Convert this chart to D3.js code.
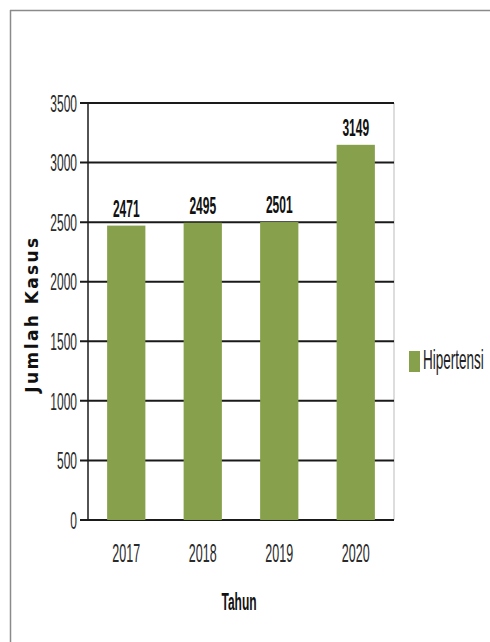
<!DOCTYPE html>
<html>
<head>
<meta charset="utf-8">
<script src="https://cdnjs.cloudflare.com/ajax/libs/d3/7.8.5/d3.min.js"></script>
<style>
  html, body { margin: 0; background: #fff; }
  text { font-family: "Liberation Sans", Arial, sans-serif; fill: #222; }
</style>
</head>
<body>
<svg id="chart" width="490" height="642"></svg>
<script>
var years = ["2017", "2018", "2019", "2020"];
var cases = [2471, 2495, 2501, 3149];
var yTicks = [0, 500, 1000, 1500, 2000, 2500, 3000, 3500];
var seriesName = "Hipertensi";

var BAR_COLOR = "#86a04b";
var SQUEEZE = 0.5; // the screenshot is squashed sideways, text too
var plot = {left: 88, right: 394, top: 103, bottom: 520};

var svg = d3.select("#chart");

// puts a horizontally squeezed text at x,y
function label(parent, px, py, str, size, anchor, bold, color) {
  var t = parent.append("g")
    .attr("transform", "translate(" + px + "," + py + ") scale(" + SQUEEZE + ",1)")
    .append("text")
    .attr("text-anchor", anchor)
    .style("font-size", size + "px")
    .style("fill", color || "#222")
    .text(str);
  if (bold) t.style("font-weight", "bold");
  return t;
}

// outer frame (top and left edge only)
svg.append("line").attr("x1", 10).attr("y1", 10.5).attr("x2", 490).attr("y2", 10.5)
  .attr("stroke", "#8a8a8a").attr("stroke-width", 1.5);
svg.append("line").attr("x1", 10.5).attr("y1", 10).attr("x2", 10.5).attr("y2", 642)
  .attr("stroke", "#8a8a8a").attr("stroke-width", 1.5);

var x = d3.scaleBand().domain(years).range([plot.left, plot.right]).paddingInner(0.5).paddingOuter(0.25);
var y = d3.scaleLinear().domain([0, 3500]).range([plot.bottom, plot.top]);

// plot area right border
svg.append("line").attr("x1", plot.right).attr("x2", plot.right)
  .attr("y1", plot.top).attr("y2", plot.bottom)
  .attr("stroke", "#bbb").attr("stroke-width", 1);

// gridlines with ticks
svg.append("g").selectAll("line").data(yTicks).enter().append("line")
  .attr("x1", plot.left - 8).attr("x2", plot.right)
  .attr("y1", function (d) { return y(d); }).attr("y2", function (d) { return y(d); })
  .attr("stroke", "#1a1a1a").attr("stroke-width", 2);

// bars
svg.append("g").selectAll("rect").data(cases).enter().append("rect")
  .attr("x", function (d, i) { return x(years[i]); })
  .attr("width", x.bandwidth())
  .attr("y", function (d) { return y(d); })
  .attr("height", function (d) { return y(0) - y(d); })
  .attr("fill", BAR_COLOR);

// y axis line
svg.append("line").attr("x1", plot.left).attr("x2", plot.left)
  .attr("y1", plot.top).attr("y2", plot.bottom + 1)
  .attr("stroke", "#1a1a1a").attr("stroke-width", 1.5);

// y tick labels
var yl = svg.append("g");
yTicks.forEach(function (d) {
  label(yl, plot.left - 11, y(d), d, 24, "end", false, "#2a2a2a").attr("dy", "0.36em");
});

// x tick labels
var xl = svg.append("g");
years.forEach(function (d) {
  label(xl, x(d) + x.bandwidth() / 2, 562, d, 25, "middle", false, "#2a2a2a");
});

// value labels
var vl = svg.append("g");
cases.forEach(function (d, i) {
  label(vl, x(years[i]) + x.bandwidth() / 2, y(d) - 9, d, 24, "middle", true, "#111");
});

// axis titles
label(svg, 239, 610, "Tahun", 24, "middle", true, "#111");
svg.append("text").attr("transform", "translate(38,314) rotate(-90)")
  .attr("text-anchor", "middle")
  .style("font-family", "'DejaVu Sans', sans-serif")
  .style("font-size", "17px").style("font-weight", "bold").style("letter-spacing", "2.4px").style("fill", "#111")
  .text("Jumlah Kasus");

// legend
var legend = svg.append("g").attr("transform", "translate(409,351)");
legend.append("rect").attr("width", 11).attr("height", 21).attr("fill", BAR_COLOR);
label(legend, 14, 18, seriesName, 27, "start", false, "#222");
</script>
</body>
</html>
